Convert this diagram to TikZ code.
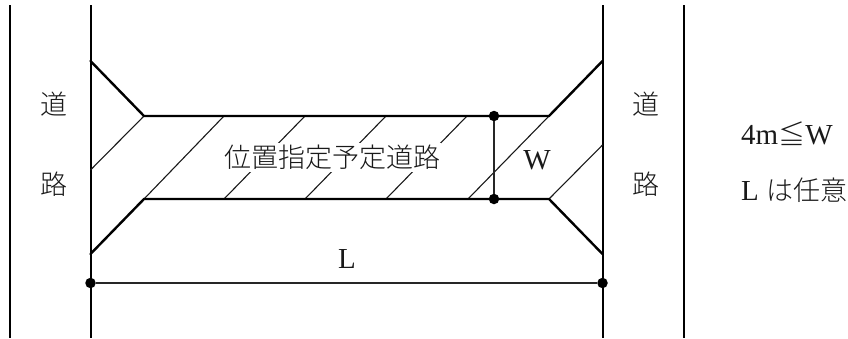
\documentclass[tikz,border=0pt]{standalone}
\usepackage{fontspec}
\setmainfont{Liberation Serif}
\newfontfamily\cjk{Noto Sans CJK JP Light}
\begin{document}
\begin{tikzpicture}[x=1pt,y=-1pt,
  wall/.style={line width=2pt,black},
  edge/.style={line width=2.4pt,black,line cap=round},
  hatch/.style={line width=1.1pt,black!90},
  dim/.style={line width=1.6pt,black!85},
  dot/.style={circle,fill=black,inner sep=0pt,minimum size=10.5pt},
  kanji/.style={font=\cjk\fontsize{27}{27}\selectfont, text=black!90, inner sep=0pt},
  latin/.style={font=\fontsize{29}{29}\selectfont, text=black!90, inner sep=0pt}]
\useasboundingbox (0,0) rectangle (848,338);
% walls
\coordinate (a1) at (9.5,5);  \coordinate (a2) at (9.5,338);
\coordinate (b1) at (90.5,5); \coordinate (b2) at (90.5,338);
\coordinate (c1) at (602.5,5);  \coordinate (c2) at (602.5,338);
\coordinate (d1) at (683.5,5);  \coordinate (d2) at (683.5,338);
\draw[wall] (a1)--(a2);
\draw[wall] (b1)--(b2);
\draw[wall] (c1)--(c2);
\draw[wall] (d1)--(d2);
% corners
\coordinate (tl) at (144,116); \coordinate (tr) at (549,116);
\coordinate (bl) at (144,199); \coordinate (br) at (549,199);
\coordinate (ftl) at (90.5,61);  \coordinate (fbl) at (90.5,254);
\coordinate (ftr) at (602.5,61);   \coordinate (fbr) at (602.5,254);
% hatching
\coordinate (h1) at (90.5,170);
\coordinate (h2) at (224,116);
\coordinate (h3a) at (305,116); \coordinate (h3b) at (224,199);
\coordinate (h4a) at (386,116); \coordinate (h4b) at (305,199);
\coordinate (h5a) at (467,116); \coordinate (h5b) at (386,199);
\coordinate (h6) at (468,199);
\coordinate (h7) at (602.5,145);
\draw[hatch] (h1)--(tl);
\draw[hatch] (bl)--(h2);
\draw[hatch] (h3a)--(h3b);
\draw[hatch] (h4a)--(h4b);
\draw[hatch] (h5a)--(h5b);
\draw[hatch] (tr)--(h6);
\draw[hatch] (br)--(h7);
\node[kanji,fill=white,minimum height=29pt,minimum width=217pt] (name) at (332.5,157.5) {位置指定予定道路};
% road outline
\draw[edge] (ftl)--(tl)--(tr)--(ftr);
\draw[edge] (fbl)--(bl)--(br)--(fbr);
% dimensions
\node[dot] (w1) at (494,116) {};
\node[dot] (w2) at (494,199) {};
\draw[dim] (w1)--(w2);
\node[dot] (l1) at (90.5,283) {};
\node[dot] (l2) at (602.5,283) {};
\draw[dim] (l1)--(l2);
% labels
\node[latin] (W) at (537,160) {W};
\node[latin] (L) at (347,259) {L};
\node[kanji] (r1) at (53.5,104) {道};
\node[kanji] (r2) at (53.5,184.5) {路};
\node[kanji] (r3) at (646,104) {道};
\node[kanji] (r4) at (646,184.5) {路};
\node[latin,anchor=west] (cond1) at (741,134) {4m{\cjk\fontsize{27}{27}\selectfont ≦}W};
\node[latin,anchor=west] (cond2) at (741,190) {L {\cjk\fontsize{27}{27}\selectfont は任意}};
\end{tikzpicture}
\end{document}
